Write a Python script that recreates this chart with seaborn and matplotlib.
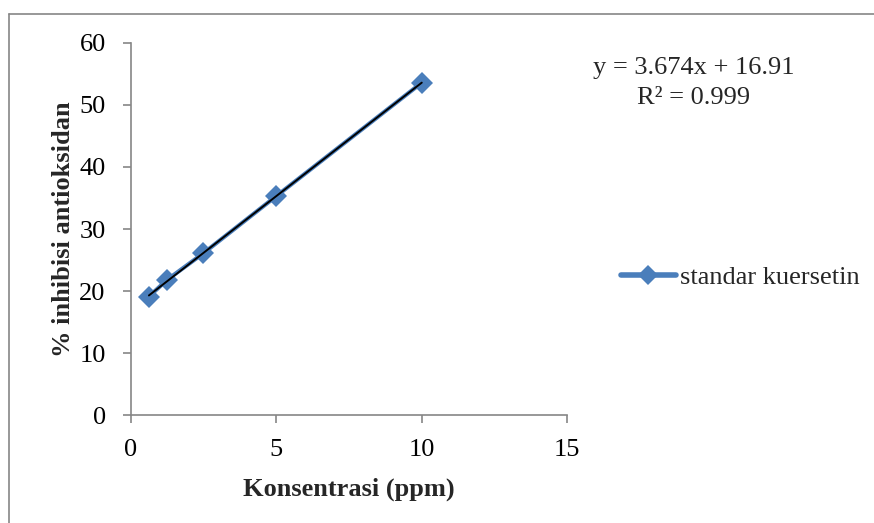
import numpy as np
import pandas as pd
import seaborn as sns
import matplotlib.pyplot as plt
from matplotlib.lines import Line2D

# Data
konsentrasi = [0.625, 1.25, 2.5, 5, 10]
inhibisi = [19.1, 21.8, 26.1, 35.3, 53.6]
x_ticks = [0, 5, 10, 15]
y_ticks = [0, 10, 20, 30, 40, 50, 60]
series_name = "standar kuersetin"
eq_text = "y = 3.674x + 16.91"
r2_text = "R\u00b2 = 0.999"

df = pd.DataFrame({"Konsentrasi": konsentrasi, "Inhibisi": inhibisi})

sns.set_theme(style="white")
plt.rcParams["font.family"] = ["Liberation Serif", "DejaVu Serif"]

blue = "#4A7EBB"
grey = "#868686"
fs = 19

fig = plt.figure(figsize=(8.74, 5.23), dpi=100)
ax = fig.add_axes([130.7 / 874, 108 / 523, 436.6 / 874, 372 / 523])

sns.lineplot(data=df, x="Konsentrasi", y="Inhibisi", ax=ax, color=blue,
             linewidth=3, marker="D", markersize=11, markeredgewidth=0,
             label=series_name)
sns.regplot(data=df, x="Konsentrasi", y="Inhibisi", ax=ax, scatter=False,
            ci=None, truncate=True, color="black", line_kws={"linewidth": 1.4})

ax.set_xlim(0, 15)
ax.set_ylim(0, 60)
ax.set_xticks(x_ticks)
ax.set_yticks(y_ticks)
ax.set_xlabel("Konsentrasi (ppm)", fontsize=fs, fontweight="bold", labelpad=12)
ax.set_ylabel("% inhibisi antioksidan", fontsize=fs, fontweight="bold", labelpad=3)

for side in ["top", "right"]:
    ax.spines[side].set_visible(False)
for side in ["left", "bottom"]:
    ax.spines[side].set_color(grey)
    ax.spines[side].set_linewidth(1.2)
ax.tick_params(axis="both", direction="out", length=6, width=1.2, color=grey,
               labelsize=fs, labelcolor="black")
ax.tick_params(axis="x", bottom=True, pad=11)
ax.tick_params(axis="y", left=True, pad=12)

# trendline equation
ax.text(0.794, 0.870, eq_text, transform=fig.transFigure, ha="center",
        va="center", fontsize=fs)
ax.text(0.794, 0.813, r2_text, transform=fig.transFigure, ha="center",
        va="center", fontsize=fs)

ax.legend_.remove()
handle = Line2D([], [], color=blue, linewidth=4, marker="D", markersize=10,
                markeredgewidth=0)
fig.legend([handle], [series_name], loc="center left",
           bbox_to_anchor=(0.695, 0.47), frameon=False, fontsize=fs,
           handlelength=2.1, handletextpad=0.15, borderpad=0)

# chart area border (top and left edges visible)
fig.add_artist(Line2D([9 / 874, 1], [1 - 14 / 523, 1 - 14 / 523], color=grey,
                      linewidth=1.2, transform=fig.transFigure))
fig.add_artist(Line2D([9 / 874, 9 / 874], [0, 1 - 14 / 523], color=grey,
                      linewidth=1.2, transform=fig.transFigure))

fig.savefig("out.png", dpi=100)
